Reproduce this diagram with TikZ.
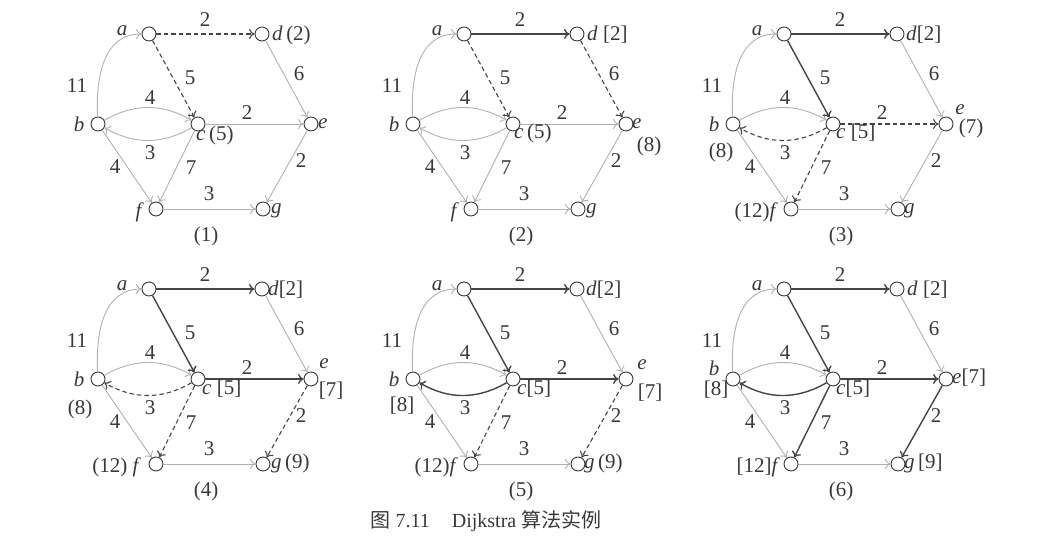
\documentclass[tikz,border=0pt]{standalone}
\usepackage{fontspec}
\setmainfont{Liberation Serif}
\newfontfamily\cjk{Noto Sans CJK SC}
\usetikzlibrary{arrows.meta,calc}
\definecolor{txt}{HTML}{383838}
\definecolor{lite}{HTML}{B0B0B0}
\definecolor{dark}{HTML}{454545}
\newcommand\graphpanel[5]{%
\begin{scope}[shift={(#2,#3)},
  ead/.style=lt,eac/.style=lt,eba/.style=lt,ebc/.style=lt,ecb/.style=lt,ece/.style=lt,
  ebf/.style=lt,ecf/.style=lt,ede/.style=lt,eeg/.style=lt,efg/.style=lt,#4]
 \node[vtx] (#1b) at (0,0) {};
 \node[vtx] (#1a) at (51,90) {};
 \node[vtx] (#1c) at (100,0) {};
 \node[vtx] (#1d) at (164,90) {};
 \node[vtx] (#1e) at (213,0) {};
 \node[vtx] (#1f) at (58,-85) {};
 \node[vtx] (#1g) at (165,-85) {};
 \draw[eba] (#1b) to[out=93,in=180,looseness=1.05] (#1a);
 \draw[ebc] (#1b) to[bend left=30] (#1c);
 \draw[ecb] (#1c) to[bend left=30] (#1b);
 \draw[ebf] (#1b) -- (#1f);
 \draw[ede] (#1d) -- (#1e);
 \draw[efg] (#1f) -- (#1g);
 \draw[eeg] (#1e) -- (#1g);
 \draw[ece] (#1c) -- (#1e);
 \draw[ecf] (#1c) -- (#1f);
 \draw[ead] (#1a) -- (#1d);
 \draw[eac] (#1a) -- (#1c);
 \node[wt] (#1wad) at (107,104) {2};
 \node[wt] (#1wac) at (92,46) {5};
 \node[wt] (#1wba) at (-21,38) {11};
 \node[wt] (#1wbc) at (52,26) {4};
 \node[wt] (#1wcb) at (52,-29) {3};
 \node[wt] (#1wce) at (149,11) {2};
 \node[wt] (#1wbf) at (17,-43) {4};
 \node[wt] (#1wcf) at (93,-44) {7};
 \node[wt] (#1wfg) at (111,-70) {3};
 \node[wt] (#1wde) at (201,50) {6};
 \node[wt] (#1weg) at (203,-37) {2};
 \node[wt] (#1num) at (108,-112) {(#5)};
 \node[lbl] (#1la) at ($(#1a)+(-27,3)$) {\textit{a}};
\end{scope}}
\begin{document}
\begin{tikzpicture}[x=1pt,y=1pt,
  vtx/.style={circle,draw=txt,fill=white,line width=0.9pt,minimum size=14pt,inner sep=0pt},
  lbl/.style={text=txt,font=\fontsize{21}{23}\selectfont,inner sep=0pt},
  wt/.style={text=txt,font=\fontsize{21}{23}\selectfont,inner sep=0pt},
  myarrow/.style={-{To[length=5.5pt,width=10pt]}},
  lt/.style={draw=lite,line width=0.9pt,myarrow},
  dk/.style={draw=dark,line width=1.4pt,myarrow},
  ds/.style={draw=dark,line width=1.1pt,dash pattern=on 4.5pt off 3pt,myarrow},
]
\useasboundingbox (0,0) rectangle (1063,553);
% ---------- panel 1
\graphpanel{p1}{98}{429}{ead/.style=ds,eac/.style=ds}{1}
\node[lbl] (p1lb) at ($(p1b)+(-19,0)$) {\textit{b}};
\node[lbl,anchor=base west] (p1ld) at ($(p1d)+(10,-7)$) {\textit{d}\,(2)};
\node[lbl,anchor=base west] (p1lc) at ($(p1c)+(-2,-17)$) {\textit{c}\,(5)};
\node[lbl,anchor=base west] (p1le) at ($(p1e)+(7,-5)$) {\textit{e}};
\node[lbl,anchor=base east] (p1lf) at ($(p1f)+(-12,-9)$) {\textit{f}};
\node[lbl,anchor=base west] (p1lg) at ($(p1g)+(8,-5)$) {\textit{g}};
% ---------- panel 2
\graphpanel{p2}{413}{429}{ead/.style=dk,eac/.style=ds,ede/.style=ds}{2}
\node[lbl] (p2lb) at ($(p2b)+(-19,0)$) {\textit{b}};
\node[lbl,anchor=base west] (p2ld) at ($(p2d)+(10,-7)$) {\textit{d} [2]};
\node[lbl,anchor=base west] (p2lc) at ($(p2c)+(1,-15)$) {\textit{c}\,(5)};
\node[lbl,anchor=base west] (p2le) at ($(p2e)+(6,-5)$) {\textit{e}};
\node[lbl] (p2de) at ($(p2e)+(23,-22)$) {(8)};
\node[lbl,anchor=base east] (p2lf) at ($(p2f)+(-12,-9)$) {\textit{f}};
\node[lbl,anchor=base west] (p2lg) at ($(p2g)+(8,-5)$) {\textit{g}};
% ---------- panel 3
\graphpanel{p3}{733}{429}{ead/.style=dk,eac/.style=dk,ecb/.style=ds,ece/.style=ds,ecf/.style=ds}{3}
\node[lbl] (p3lb) at ($(p3b)+(-19,0)$) {\textit{b}};
\node[lbl] (p3db) at ($(p3b)+(-12,-28)$) {(8)};
\node[lbl,anchor=base west] (p3ld) at ($(p3d)+(9,-7)$) {\textit{d}[2]};
\node[lbl,anchor=base west] (p3lc) at ($(p3c)+(3,-15)$) {\textit{c} [5]};
\node[lbl] (p3le) at ($(p3e)+(14,14)$) {\textit{e}};
\node[lbl] (p3de) at ($(p3e)+(25,-4)$) {(7)};
\node[lbl,anchor=base east] (p3lf) at ($(p3f)+(-13,-9)$) {(12)\textit{f}};
\node[lbl,anchor=base west] (p3lg) at ($(p3g)+(6,-5)$) {\textit{g}};
% ---------- panel 4
\graphpanel{p4}{98}{174}{ead/.style=dk,eac/.style=dk,ece/.style=dk,ecb/.style=ds,ecf/.style=ds,eeg/.style=ds}{4}
\node[lbl] (p4lb) at ($(p4b)+(-19,0)$) {\textit{b}};
\node[lbl] (p4db) at ($(p4b)+(-18,-30)$) {(8)};
\node[lbl,anchor=base west] (p4ld) at ($(p4d)+(6,-7)$) {\textit{d}[2]};
\node[lbl,anchor=base west] (p4lc) at ($(p4c)+(4,-16)$) {\textit{c} [5]};
\node[lbl] (p4le) at ($(p4e)+(13,15)$) {\textit{e}};
\node[lbl] (p4de) at ($(p4e)+(20,-12)$) {[7]};
\node[lbl,anchor=base east] (p4lf) at ($(p4f)+(-15,-9)$) {(12) \textit{f}};
\node[lbl,anchor=base west] (p4lg) at ($(p4g)+(8,-5)$) {\textit{g}\,(9)};
% ---------- panel 5
\graphpanel{p5}{413}{174}{ead/.style=dk,eac/.style=dk,ece/.style=dk,ecb/.style=dk,ecf/.style=ds,eeg/.style=ds}{5}
\node[lbl] (p5lb) at ($(p5b)+(-19,0)$) {\textit{b}};
\node[lbl] (p5db) at ($(p5b)+(-11,-27)$) {[8]};
\node[lbl,anchor=base west] (p5ld) at ($(p5d)+(9,-7)$) {\textit{d}[2]};
\node[lbl,anchor=base west] (p5lc) at ($(p5c)+(4,-16)$) {\textit{c}[5]};
\node[lbl] (p5le) at ($(p5e)+(16,14)$) {\textit{e}};
\node[lbl] (p5de) at ($(p5e)+(24,-14)$) {[7]};
\node[lbl,anchor=base east] (p5lf) at ($(p5f)+(-13,-9)$) {(12)\textit{f}};
\node[lbl,anchor=base west] (p5lg) at ($(p5g)+(6,-5)$) {\textit{g}\,(9)};
% ---------- panel 6
\graphpanel{p6}{733}{174}{ead/.style=dk,eac/.style=dk,ece/.style=dk,ecb/.style=dk,ecf/.style=dk,eeg/.style=dk}{6}
\node[lbl] (p6lb) at ($(p6b)+(-19,11)$) {\textit{b}};
\node[lbl] (p6db) at ($(p6b)+(-17,-11)$) {[8]};
\node[lbl,anchor=base west] (p6ld) at ($(p6d)+(10,-7)$) {\textit{d} [2]};
\node[lbl,anchor=base west] (p6lc) at ($(p6c)+(3,-16)$) {\textit{c}[5]};
\node[lbl,anchor=base west] (p6le) at ($(p6e)+(6,-5)$) {\textit{e}[7]};
\node[lbl,anchor=base east] (p6lf) at ($(p6f)+(-11,-9)$) {[12]\textit{f}};
\node[lbl,anchor=base west] (p6lg) at ($(p6g)+(6,-5)$) {\textit{g}\,[9]};
% ---------- caption
\node[text=txt,font=\fontsize{20}{22}\selectfont,inner sep=0pt] (cap) at (486,32)
  {{\cjk 图}~7.11\hspace{1.1em}Dijkstra~{\cjk 算法实例}};
\end{tikzpicture}
\end{document}
